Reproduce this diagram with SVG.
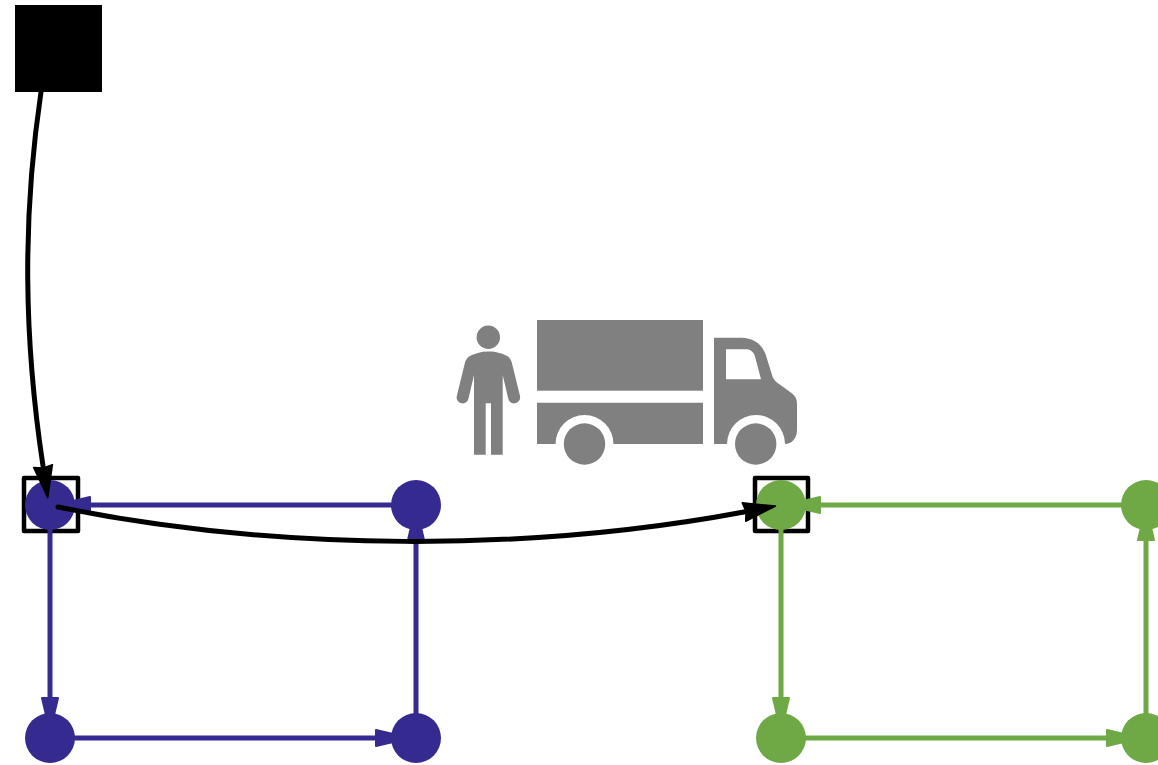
<svg xmlns="http://www.w3.org/2000/svg" width="1158" height="765" viewBox="0 0 1158 765">
<style>
.blue{fill:#352a8f}.green{fill:#6fa946}.grey{fill:#808080}
.edge{fill:none;stroke-width:5}
.eb{stroke:#352a8f}.eg{stroke:#6fa946}
.flow{fill:none;stroke:#000;stroke-width:5;stroke-linecap:round}
.box{fill:none;stroke:#000;stroke-width:4.500;stroke-linejoin:round}
</style>
<defs>
<marker id="hb" markerUnits="userSpaceOnUse" markerWidth="40" markerHeight="24" refX="1" refY="12" orient="auto"><path d="M1,4V20L35,12Z" fill="#352a8f" stroke="#352a8f" stroke-width="2" stroke-linejoin="round"/></marker>
<marker id="hg" markerUnits="userSpaceOnUse" markerWidth="40" markerHeight="24" refX="1" refY="12" orient="auto"><path d="M1,4V20L35,12Z" fill="#6fa946" stroke="#6fa946" stroke-width="2" stroke-linejoin="round"/></marker>
<marker id="hk" markerUnits="userSpaceOnUse" markerWidth="40" markerHeight="26" refX="1" refY="13" orient="auto"><path d="M1,3.500L3,13L1,22.500L33,13Z" fill="#000" stroke="#000" stroke-width="1.500" stroke-linejoin="round"/></marker>
</defs>
<rect width="1158" height="765" fill="#fff"/>
<g id="source"><rect x="15" y="5" width="87" height="87" fill="#000"/></g>
<g id="frame-blue"><rect class="box" x="24" y="478" width="54" height="53"/></g>
<g id="frame-green"><rect class="box" x="755" y="478" width="53" height="53"/></g>
<g id="blue-a"><circle class="blue" cx="50" cy="505" r="25"/></g>
<g id="blue-b"><circle class="blue" cx="416" cy="505" r="25"/></g>
<g id="blue-c"><circle class="blue" cx="50" cy="738" r="25"/></g>
<g id="blue-d"><circle class="blue" cx="416" cy="738" r="25"/></g>
<g id="green-a"><circle class="green" cx="781" cy="505" r="25"/></g>
<g id="green-b"><circle class="green" cx="1146" cy="505" r="25"/></g>
<g id="green-c"><circle class="green" cx="781" cy="738" r="25"/></g>
<g id="green-d"><circle class="green" cx="1146" cy="738" r="25"/></g>
<g id="connectors">
<path class="edge eb" d="M416,505H90" marker-end="url(#hb)"/>
<path class="edge eb" d="M50,505V698" marker-end="url(#hb)"/>
<path class="edge eb" d="M50,738H376" marker-end="url(#hb)"/>
<path class="edge eb" d="M416,738V540" marker-end="url(#hb)"/>
<path class="edge eg" d="M1146,505H820" marker-end="url(#hg)"/>
<path class="edge eg" d="M781,505V698" marker-end="url(#hg)"/>
<path class="edge eg" d="M781,738H1107" marker-end="url(#hg)"/>
<path class="edge eg" d="M1146,738V540" marker-end="url(#hg)"/>
<path class="flow" d="M41,92C22,220 24,340 43,466" marker-end="url(#hk)"/>
<path class="flow" d="M58,507C280,552 530,552 744,512" marker-end="url(#hk)"/>
</g>
<g id="person">
<circle class="grey" cx="488.300" cy="337.300" r="11.700"/>
<path class="grey" d="M488.300,351.500C496,351.500 503,353.500 508,356.500C510,358 511,360 511.800,362.500L520,396C520.800,399.500 518.500,402.500 515,403.300C511.500,404 509,402 508.200,398.500L502.700,375V454.700H491V403.300H485.700V454.700H474V375L468.500,398.500C467.700,402 465,404 461.500,403.300C458,402.500 456,399.500 456.800,396L465,362.500C465.700,360 467,358 469,356.500C474,353.500 481,351.500 488.300,351.500Z"/>
</g>
<g id="truck">
<rect class="grey" x="537" y="320" width="166" height="70.700"/>
<path class="grey" d="M537,402.700H703V444H613.500A29,29 0 0 0 555.500,444H537Z"/>
<circle class="grey" cx="584.500" cy="444" r="20.700"/>
<path class="grey" fill-rule="evenodd" d="M714,337.700H741.500C753,337.700 762,344 765.500,354L772.500,376.500C773.500,379 775,381 777,382.500L791.500,393C795,395.700 797,399 797,403.500V430C797,438 792,444 785,444A29,29 0 0 0 727,444H714ZM726,349.300V379.300H761L755,356.500C753.800,352 750.500,349.300 746,349.300Z"/>
<circle class="grey" cx="755.700" cy="444" r="20.700"/>
</g>
</svg>
